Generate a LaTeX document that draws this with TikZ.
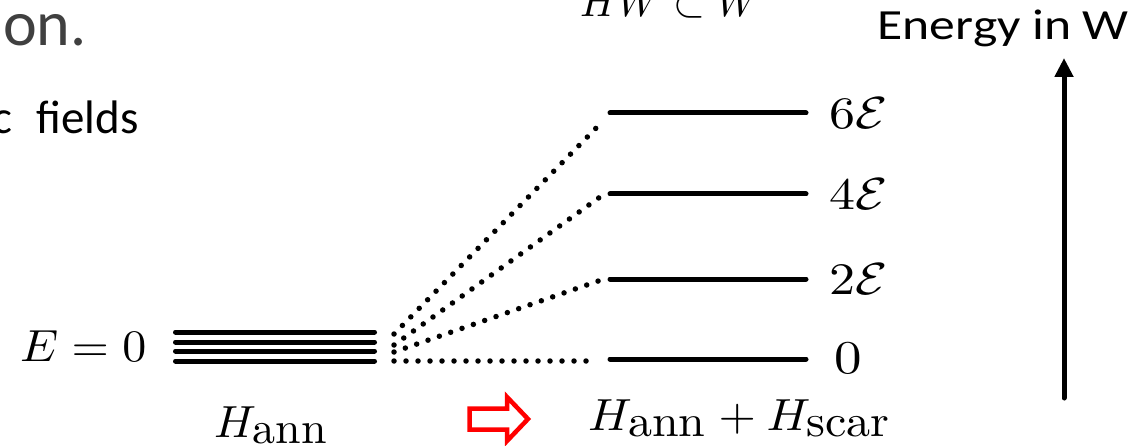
\documentclass[tikz,border=0pt]{standalone}
\usepackage{fix-cm}
\usepackage{graphicx}
\usepackage{fontspec}
\newfontfamily\carlito{Carlito}
\newfontfamily\carlitowide[FakeStretch=1.2]{Carlito}
\usetikzlibrary{arrows.meta}
\definecolor{titlegray}{HTML}{404040}
\newcommand\mlab[3]{\scalebox{#1}[#2]{$\displaystyle #3$}}
\begin{document}
\begin{tikzpicture}[x=1pt,y=-1pt,
  levelline/.style={line width=5pt,line cap=round},
  fanline/.style={line width=5.5pt,line cap=round,dash pattern=on 0pt off 12pt},
  mathlbl/.style={inner sep=0pt,font=\fontsize{10}{12}\selectfont},
  slidetext/.style={inner sep=0pt,font=\carlito\fontsize{47}{56}\selectfont},
  blockarrow/.style={draw=red,fill=white,line width=4.5pt,line join=miter}]
\useasboundingbox (0,0) rectangle (1147,446);

% slide text fragments
\node[slidetext,text=titlegray,anchor=base west,font=\carlito\fontsize{64}{70}\selectfont] (title) at (3,46) {on.};
\node[slidetext,anchor=base east] (fields) at (139,134) {c\hspace{14pt} fields};
\node[mathlbl,anchor=base west] (hw) at (580,17) {\mlab{4.1}{4.3}{HW\subset W}};

% left degenerate levels
\foreach \i/\y in {1/332,2/342,3/351,4/361}{
  \coordinate (a\i) at (175.5,\y);
  \coordinate (b\i) at (374.5,\y);
  \draw[levelline] (a\i) -- (b\i);
}
\node[mathlbl,anchor=base west] (ezero) at (20,361) {\mlab{4.8}{4.5}{E=0}};
\node[mathlbl,anchor=base west] (hann) at (214,437) {\mlab{4.6}{4.5}{H_{\textstyle\mathrm{ann}}}};

% right split levels
\foreach \n/\y in {0/359,2/279,4/194,6/113}{
  \coordinate (r\n a) at (610,\y);
  \coordinate (r\n b) at (806,\y);
  \draw[levelline] (r\n a) -- (r\n b);
}
\node[mathlbl,anchor=west] (l6) at (829,113) {\mlab{5.2}{4.5}{6\mathcal{E}}};
\node[mathlbl,anchor=west] (l4) at (829,194) {\mlab{5.2}{4.5}{4\mathcal{E}}};
\node[mathlbl,anchor=west] (l2) at (829,279) {\mlab{5.2}{4.5}{2\mathcal{E}}};
\node[mathlbl,anchor=west] (l0) at (834,358) {\mlab{5.5}{4.7}{0}};

% dotted fan
\coordinate (s6) at (394,334);
\coordinate (s4) at (394,345);
\coordinate (s2) at (394,352);
\coordinate (s0) at (394,361);
\coordinate (e6) at (604,120);
\coordinate (e4) at (600,197);
\coordinate (e2) at (604,279);
\coordinate (e0) at (596,361);
\draw[fanline] (s6) -- (e6);
\draw[fanline] (s4) -- (e4);
\draw[fanline] (s2) -- (e2);
\draw[fanline] (s0) -- (e0);

% red block arrow
\draw[blockarrow] (469.5,408.5) -- (507,408.5) -- (507,397) -- (528,419)
  -- (507,441) -- (507,429.5) -- (469.5,429.5) -- cycle;
\node[mathlbl,anchor=base west] (hsum) at (588,430) {\mlab{4.8}{4.5}{H_{\textstyle\mathrm{ann}}+H_{\textstyle\mathrm{scar}}}};

% energy axis
\coordinate (ebot) at (1064,398);
\coordinate (etop) at (1064,58);
\draw[line width=5pt,line cap=round,-{Triangle[length=19pt,width=18pt]}] (ebot) -- (etop);
\node[inner sep=0pt,anchor=base east,font=\carlitowide\fontsize{43}{49}\selectfont] (energy) at (1129,40) {Energy in W};
\end{tikzpicture}
\end{document}
